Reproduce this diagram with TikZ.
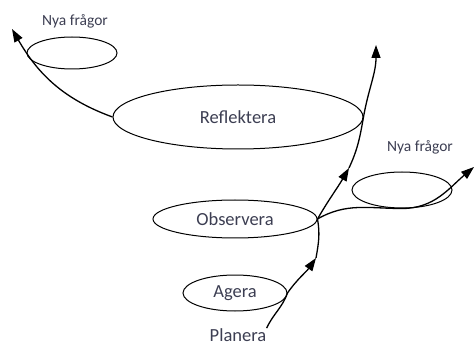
\documentclass[tikz,border=0pt]{standalone}
\usepackage{fontspec}
\setmainfont{Carlito}
\usetikzlibrary{shapes.geometric,arrows.meta}
\definecolor{labelgray}{RGB}{60,62,82}
\tikzset{
  cyclebox/.style={ellipse, draw, line width=1pt, inner sep=0pt, text=labelgray, font=\fontsize{18.5}{20}\selectfont},
  notetext/.style={text=labelgray, inner sep=1pt, font=\fontsize{15.5}{17}\selectfont},
  flow/.style={line width=1.3pt, -{Triangle[length=13pt,width=9pt]}},
}
\begin{document}
\begin{tikzpicture}[x=1pt, y=-1pt]
			\useasboundingbox (0,0) rectangle (476,347);
			\node[cyclebox, minimum width=104pt, minimum height=36pt] (agera) at (235,293) {Agera};
			\node[cyclebox, minimum width=164pt, minimum height=38pt] (obs) at (235,219) {Observera};
			\node[cyclebox, minimum width=250pt, minimum height=64pt] (refl) at (238,117) {Reflektera};
			\node[cyclebox, minimum width=90pt, minimum height=32pt] (nyl) at (72,53) {};
			\node[cyclebox, minimum width=100pt, minimum height=36pt] (nyr) at (402,190) {};
			\node[notetext] (nyltext) at (75,21) {Nya frågor};
			\node[notetext] (nyrtext) at (420,147) {Nya frågor};
			\node[cyclebox, draw=none] (planera) at (238,335) {Planera};
			\coordinate (t1) at (316,258);
			\coordinate (t2) at (349,168);
			\coordinate (t3) at (376,45);
			\coordinate (t4) at (474,167);
			\coordinate (t5) at (12,29);
			\draw[flow] (planera.north east) to[out=65,in=-110] (agera.east) to[out=55,in=-125] (t1);
			\draw[flow] (t1) to[out=80,in=-80] (obs.east) to[out=60,in=-120] (t2);
			\draw[flow] (t2) to[out=65,in=-100] (refl.east) to[out=80,in=-90] (t3);
			\draw[flow] (obs.east) to[out=30,in=180] (nyr.south) to[out=0,in=-140] (t4);
			\draw[flow] (refl.west) to[out=160,in=-60] (t5);
		\end{tikzpicture}
\end{document}
